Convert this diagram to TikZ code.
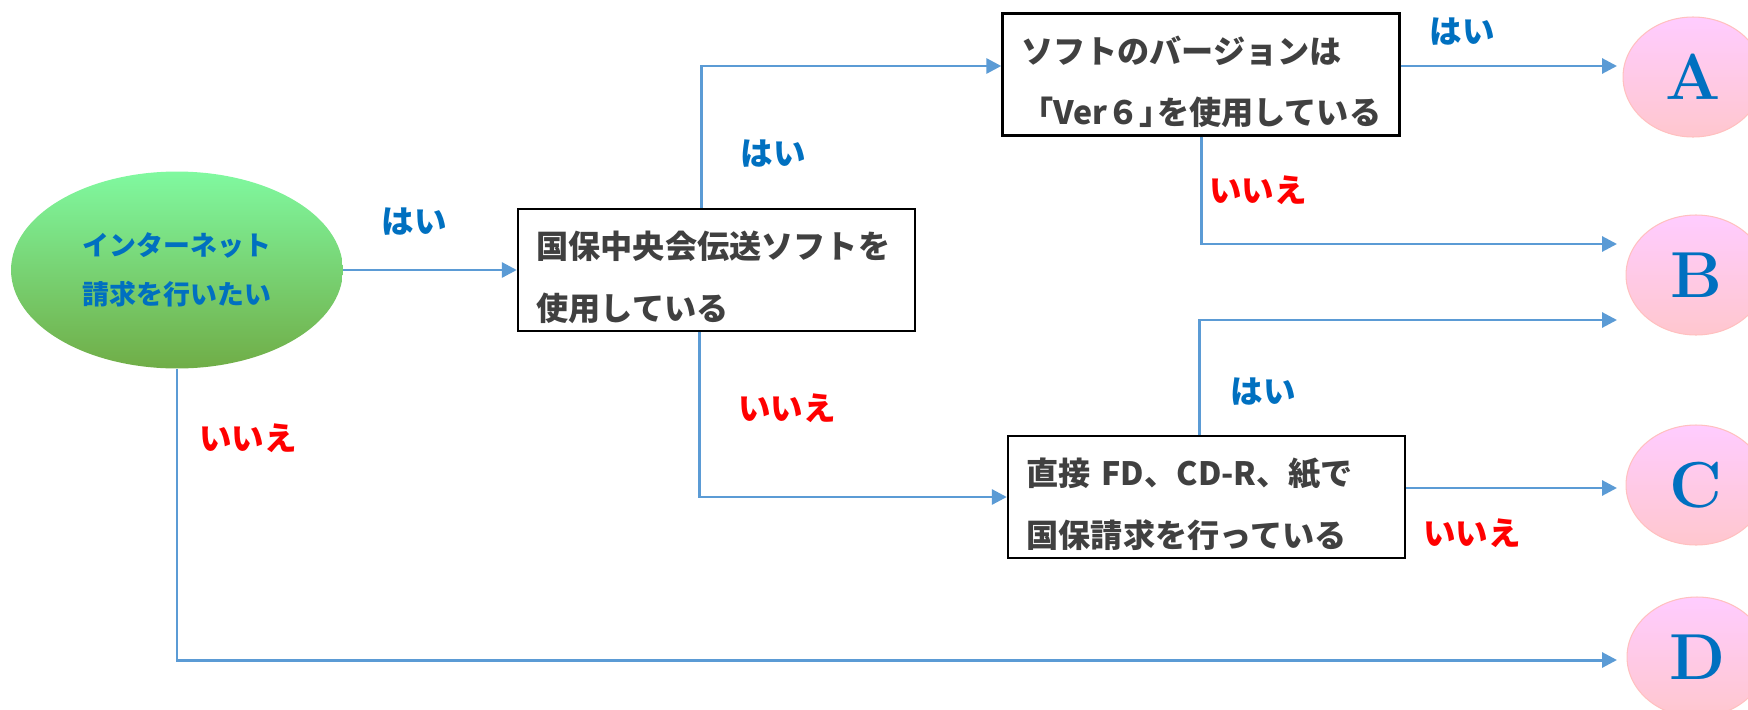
\documentclass[tikz,border=0pt]{standalone}
\usepackage{fontspec}
\newfontfamily\jp{Noto Sans CJK JP}
\usetikzlibrary{shapes.geometric, arrows.meta, calc}

\definecolor{connblue}{HTML}{5B9BD5}
\definecolor{jpblue}{HTML}{0070C0}
\definecolor{textgray}{HTML}{404040}
\definecolor{startTop}{HTML}{80F9A0}
\definecolor{startBot}{HTML}{70AD47}
\definecolor{goalTop}{HTML}{FFCCFF}
\definecolor{goalBot}{HTML}{FFC7CE}
\definecolor{goalLine}{HTML}{FFC0C0}

\begin{document}
\begin{tikzpicture}[x=0.02cm, y=-0.02cm,
	start/.style={ellipse, minimum width=6.64cm, minimum height=3.94cm, inner sep=0pt, top color=startTop, bottom color=startBot, text=jpblue, align=center, font=\jp\bfseries\fontsize{15.3pt}{28pt}\selectfont},
	box/.style={rectangle, draw=black, line width=1.4pt, minimum width=7.94cm, minimum height=2.44cm, text width=7.2cm, text height=24pt, inner xsep=0.37cm, align=left, text=textgray, font=\jp\bfseries\fontsize{18.3pt}{35pt}\selectfont},
	goal/.style={ellipse, draw=goalLine, line width=0.6pt, top color=goalTop, bottom color=goalBot, minimum width=2.8cm, minimum height=2.4cm, inner sep=0pt, text=jpblue, font=\bfseries\fontsize{37pt}{40pt}\selectfont},
	conn/.style={draw=connblue, line width=1.7pt, -{Triangle[length=0.3cm, width=0.3cm]}},
	yes/.style={text=jpblue, font=\jp\bfseries\fontsize{18.5pt}{20pt}\selectfont},
	no/.style={text=red, font=\jp\bfseries\fontsize{18.5pt}{20pt}\selectfont}]
	\useasboundingbox (0,0) rectangle (1748,710);

	\node[start] (want) at (177,270) {インターネット\\請求を行いたい};
	\node[box] (soft) at (716.5,270) {国保中央会伝送ソフトを\\使用している};
	\node[box] (ver) at (1201,74.5) {ソフトのバージョンは\\「Ver６」\kern-.45em を使用している};
	\node[box] (paper) at (1206.5,497) {直接 FD、CD-R、紙で\\国保請求を行っている};

	\node[goal] (A) at (1693,77) {A};
	\node[goal] (B) at (1696,275) {B};
	\node[goal] (C) at (1696,485) {C};
	\node[goal] (D) at (1697,657) {D};

	\coordinate (toA) at (1617,66);
	\coordinate (toB1) at (1617,244);
	\coordinate (toB2) at (1617,320);
	\coordinate (toC) at (1617,488);
	\coordinate (toD) at (1617,660);

	\draw[conn] (want) -- (soft);
	\draw[conn] ($(soft.north)+(-15,0)$) |- (ver.west |- toA);
	\draw[conn] (ver.east |- toA) -- (toA);
	\draw[conn] (ver.south) |- (toB1);
	\draw[conn] ($(soft.south)+(-17,0)$) |- (paper.west);
	\draw[conn] ($(paper.north)+(-7,0)$) |- (toB2);
	\draw[conn] (paper.east |- toC) -- (toC);
	\draw[conn] (want.south) |- (toD);

	\node[yes] (yes1) at (414,222) {はい};
	\node[yes] (yes2) at (773,154) {はい};
	\node[yes] (yes3) at (1462,32) {はい};
	\node[yes] (yes4) at (1263,392) {はい};
	\node[no] (no1) at (1258,190) {いいえ};
	\node[no] (no2) at (787,408) {いいえ};
	\node[no] (no3) at (1472,533) {いいえ};
	\node[no] (no4) at (248,438) {いいえ};
\end{tikzpicture}
\end{document}
